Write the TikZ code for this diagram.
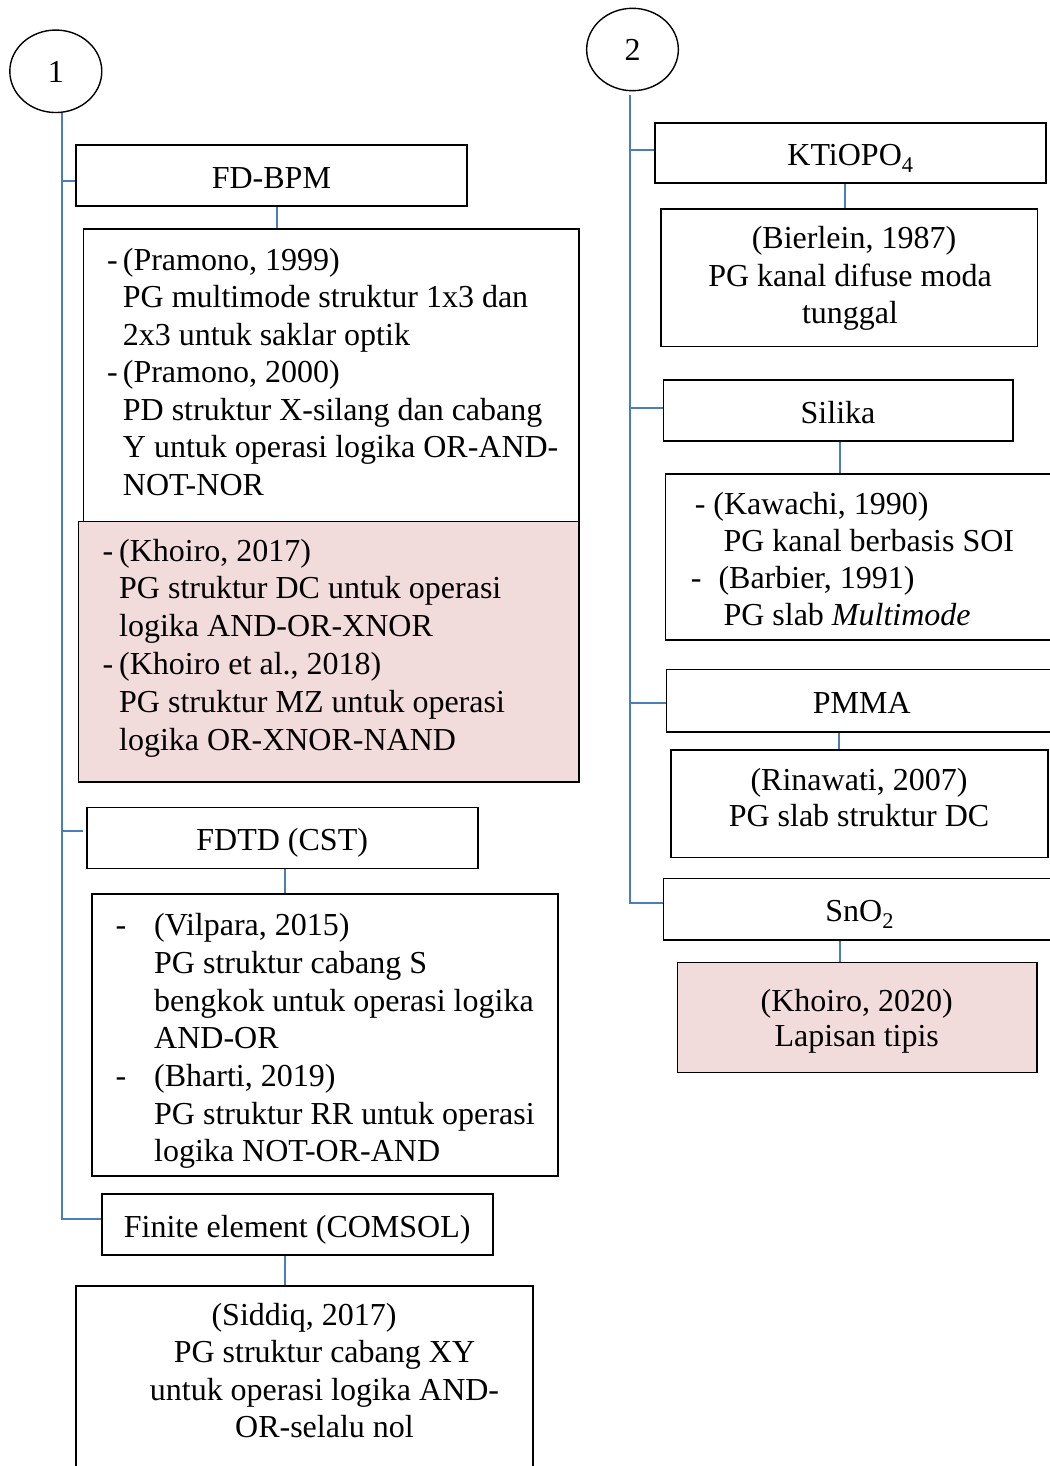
\documentclass[tikz,border=0pt]{standalone}
\usepackage{fontspec}
\setmainfont{Liberation Serif}
\usetikzlibrary{shapes.geometric}
\definecolor{linkblue}{RGB}{74,126,187}
\definecolor{notepink}{RGB}{242,220,219}
\begin{document}
\begin{tikzpicture}[x=1pt,y=-1pt,
  frame/.style={draw=black, line width=1.6pt, rectangle, inner sep=0pt,
                font=\fontsize{32}{38}\selectfont, text height=30pt, text depth=4.8pt},
  pinkframe/.style={frame, fill=notepink},
  lines/.style={inner sep=0pt, font=\fontsize{32}{#1}\selectfont},
  link/.style={draw=linkblue, line width=2pt},
  num/.style={draw=black, line width=1.4pt, ellipse, inner sep=0pt,
              font=\fontsize{32}{38}\selectfont, text height=26pt, text depth=3.6pt},
]
\useasboundingbox (0,0) rectangle (1049,1466);

% ---------- group 1 : simulation methods ----------
\node[num, minimum width=92, minimum height=82.5] (n1) at (55.8,71.3) {1};

\node[frame, minimum width=391, minimum height=61] (fdbpm) at (271.4,175.5) {FD-BPM};
\node[frame, minimum width=495.7, minimum height=292.5] (boxA) at (331.2,375.2) {};
\node[pinkframe, minimum width=500.4, minimum height=260.5] (pinkA) at (328.8,651.7) {};
\node[lines=37.5, anchor=north west, align=left] (txtA) at (122.7,243.75)
  {\strut\llap{-\hspace{5pt}}(Pramono, 1999)\\
   \strut PG multimode struktur 1x3 dan\\
   \strut 2x3 untuk saklar optik\\
   \strut\llap{-\hspace{5pt}}(Pramono, 2000)\\
   \strut PD struktur X-silang dan cabang\\
   \strut Y untuk operasi logika OR-AND-\\
   \strut NOT-NOR};
\node[lines=37.8, anchor=north west, align=left] (txtP) at (119,534.5)
  {\strut\llap{-\hspace{6pt}}(Khoiro, 2017)\\
   \strut PG struktur DC untuk operasi\\
   \strut logika AND-OR-XNOR\\
   \strut\llap{-\hspace{6pt}}(Khoiro et al., 2018)\\
   \strut PG struktur MZ untuk operasi\\
   \strut logika OR-XNOR-NAND};

\node[frame, minimum width=391, minimum height=61] (fdtd) at (282.2,837.8) {FDTD (CST)};
\node[frame, minimum width=466, minimum height=282] (boxB) at (324.7,1035.2) {};
\node[lines=37.67, anchor=north west, align=left] (txtB) at (154,909.3)
  {\strut\llap{-\hspace{28pt}}(Vilpara, 2015)\\
   \strut PG struktur cabang S\\
   \strut bengkok untuk operasi logika\\
   \strut AND-OR\\
   \strut\llap{-\hspace{28pt}}(Bharti, 2019)\\
   \strut PG struktur RR untuk operasi\\
   \strut logika NOT-OR-AND};

\node[frame, minimum width=391, minimum height=61] (fe) at (297.2,1224.5) {Finite element (COMSOL)};
\node[frame, minimum width=456.7, minimum height=204] (boxC) at (304.4,1388) {};
\node[lines=37.1, anchor=north, align=center] (txtC) at (324.5,1299.7)
  {\strut(Siddiq, 2017)\kern41pt\\
   \strut PG struktur cabang XY\\
   \strut untuk operasi logika AND-\\
   \strut OR-selalu nol};

% ---------- group 2 : materials ----------
\node[num, minimum width=91.7, minimum height=82.4] (n2) at (632.5,49.5) {2};

\node[frame, minimum width=391, minimum height=60] (kti) at (850.5,153.3) {KTiOPO\textsubscript{4}};
\node[frame, minimum width=376.7, minimum height=137.7] (bier) at (849.3,277.8) {};
\node[lines=37.7, anchor=north, align=center] (txtBier) at (850,221.9)
  {\strut\kern8pt(Bierlein, 1987)\\
   \strut PG kanal difuse moda\\
   \strut tunggal};

\node[frame, minimum width=349.4, minimum height=61] (sil) at (838,410.5) {Silika};
\node[frame, minimum width=394.7, minimum height=166] (kaw) at (862.7,557) {};
\node[lines=37, anchor=north west, align=left] (txtKaw) at (723.3,488.1)
  {\strut\kern-10pt\llap{-\hspace{8pt}}(Kawachi, 1990)\\
   \strut PG kanal berbasis SOI\\
   \strut\kern-5pt\llap{-\hspace{17pt}}(Barbier, 1991)\\
   \strut PG slab \textit{Multimode}};

\node[frame, minimum width=390.3, minimum height=62.4] (pmma) at (861.8,700.5) {PMMA};
\node[frame, minimum width=377, minimum height=107.7] (rin) at (859.2,803.8) {};
\node[lines=36, anchor=north, align=center] (txtRin) at (859,765.5)
  {\strut(Rinawati, 2007)\\
   \strut PG slab struktur DC};

\node[frame, minimum width=392.7, minimum height=61.7] (sno) at (859.7,909.2) {SnO\textsubscript{2}};
\node[pinkframe, minimum width=359.4, minimum height=110] (kh20) at (857,1017.3) {};
\node[lines=35, anchor=north, align=center] (txtKh) at (856.7,987.2)
  {\strut(Khoiro, 2020)\\
   \strut Lapisan tipis};

% ---------- connectors ----------
\coordinate (t1) at (62,0);
\coordinate (t2) at (630,0);
\coordinate (top2) at ([yshift=-3.5pt]n2.south);

% trunk 1 with its branches
\coordinate (b1a) at ([yshift=-5.5pt]fdbpm.west);
\coordinate (b1b) at ([yshift=6.8pt,xshift=-3.4pt]fdtd.west);
\coordinate (b1c) at ([yshift=5.5pt]fe.west);
\draw[link] (n1.south -| t1) -- (b1c -| t1) -- (b1c);
\draw[link] (b1a -| t1) -- (b1a);
\draw[link] (b1b -| t1) -- (b1b);

% trunk 2 with its branches
\coordinate (b2a) at ([yshift=3.3pt]kti.west);
\coordinate (b2b) at ([yshift=2.5pt]sil.west);
\coordinate (b2c) at ([yshift=-2.5pt]pmma.west);
\coordinate (b2d) at ([yshift=6.2pt]sno.west);
\draw[link] (top2 -| t2) -- (b2d -| t2) -- (b2d);
\draw[link] (b2a -| t2) -- (b2a);
\draw[link] (b2b -| t2) -- (b2b);
\draw[link] (b2c -| t2) -- (b2c);

% header-to-detail links
\coordinate (xA) at (277,0);
\coordinate (xB) at (285,0);
\coordinate (xC) at (285,0);
\coordinate (xK) at (845,0);
\coordinate (xS) at (840,0);
\coordinate (xP) at (839,0);
\coordinate (xN) at (840,0);
\draw[link] (fdbpm.south -| xA) -- (boxA.north -| xA);
\draw[link] (fdtd.south -| xB) -- (boxB.north -| xB);
\draw[link] (fe.south -| xC) -- (boxC.north -| xC);
\draw[link] (kti.south -| xK) -- (bier.north -| xK);
\draw[link] (sil.south -| xS) -- (kaw.north -| xS);
\draw[link] (pmma.south -| xP) -- (rin.north -| xP);
\draw[link] (sno.south -| xN) -- (kh20.north -| xN);
\end{tikzpicture}
\end{document}
